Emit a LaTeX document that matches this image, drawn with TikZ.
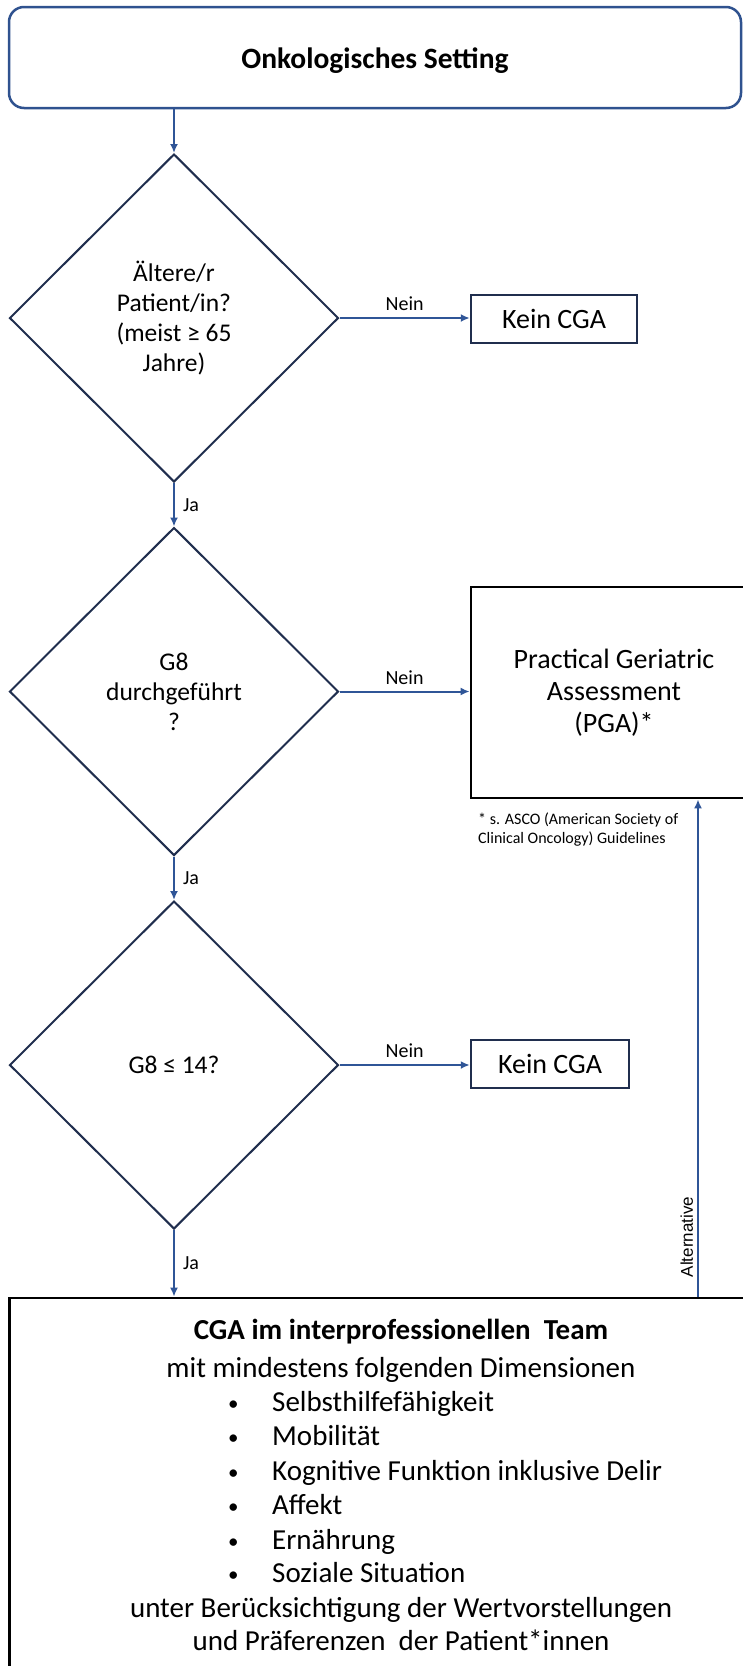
\documentclass[tikz,border=0pt]{standalone}
\usepackage{fontspec}
\setmainfont{Carlito}
\newfontfamily\altfont{Liberation Sans}
\usetikzlibrary{shapes.geometric,arrows.meta}
\definecolor{conn}{RGB}{47,85,151}
\definecolor{navy}{RGB}{32,46,78}
\definecolor{titleblue}{RGB}{47,82,143}
\newcommand{\blt}{\makebox[44pt][l]{\raisebox{1pt}{\fontsize{21}{21}\selectfont •}}}
\begin{document}
\begin{tikzpicture}[x=1pt,y=-1pt,
  arr/.style={draw=conn,line width=2pt,-{Latex[length=9pt,width=8pt]}},
  dec/.style={diamond,draw=navy,line width=2pt,minimum width=329pt,minimum height=328pt,inner sep=0pt,align=center,font=\fontsize{25.5}{30}\selectfont},
  keinbox/.style={rectangle,draw=navy,line width=2.5pt,minimum height=48pt,inner sep=0pt,font=\fontsize{28}{33}\selectfont},
  blackbox/.style={rectangle,draw=black,line width=2.8pt,inner sep=0pt,align=center},
  lbl/.style={font=\fontsize{20}{24}\selectfont,inner sep=2pt},
  bigline/.style={inner sep=0pt,text height=20pt,text depth=6pt,font=\fontsize{29}{34.5}\selectfont}
]
\useasboundingbox (0,0) rectangle (743,1666);
\clip (0,0) rectangle (743,1666);

% title
\node[rectangle,rounded corners=15pt,draw=titleblue,line width=2.5pt,minimum width=732pt,minimum height=101pt,inner sep=0pt,text height=28.5pt,text depth=6pt,font=\bfseries\fontsize{29.5}{36}\selectfont] (title) at (375,57.5) {Onkologisches Setting};

% decisions
\node[dec] (d1) at (174,318) {Ältere/r\\Patient/in?\\(meist ≥ 65\\Jahre)};
\node[dec] (d2) at (174,691.5) {G8\\durchgeführt\\?};
\node[dec] (d3) at (174,1065) {G8 ≤ 14?};

% boxes
\node[keinbox,minimum width=166pt] (k1) at (554,319) {Kein CGA};
\node[keinbox,minimum width=158pt] (k2) at (550,1064) {Kein CGA};
\node[blackbox,minimum width=286pt,minimum height=211pt,font=\fontsize{28}{32}\selectfont] (pga) at (614,692.5) {Practical Geriatric\\Assessment\\(PGA)*};
\node[anchor=north west,inner sep=0pt,align=left,font=\fontsize{16}{19}\selectfont] (foot) at (478,813) {* s. ASCO (American Society of\\Clinical Oncology) Guidelines};
\node[blackbox,minimum width=783pt,minimum height=384pt] (cga) at (401,1490) {};

% big box text
\node[bigline,font=\bfseries\fontsize{29}{34.5}\selectfont] (c0) at (401,1332) {CGA im interprofessionellen \ Team};
\node[bigline] (c1) at (401,1370) {mit mindestens folgenden Dimensionen};
\node[bigline,anchor=west] (b1) at (228,1404) {\blt Selbsthilfefähigkeit};
\node[bigline,anchor=west] (b2) at (228,1438) {\blt Mobilität};
\node[bigline,anchor=west] (b3) at (228,1473) {\blt Kognitive Funktion inklusive Delir};
\node[bigline,anchor=west] (b4) at (228,1507) {\blt Affekt};
\node[bigline,anchor=west] (b5) at (228,1542) {\blt Ernährung};
\node[bigline,anchor=west] (b6) at (228,1575) {\blt Soziale Situation};
\node[bigline] (c2) at (401,1610) {unter Berücksichtigung der Wertvorstellungen};
\node[bigline] (c3) at (401,1643) {und Präferenzen \ der Patient*innen};

% connectors
\coordinate (altx) at (698,0);
\draw[arr] (title.south -| d1.north) -- (d1.north);
\draw[arr] (d1.east) -- node[lbl,above,yshift=4pt] (n1) {Nein} (k1.west |- d1.east);
\draw[arr] (d1.south) -- node[lbl,right,xshift=6pt] (j1) {Ja} (d2.north);
\draw[arr] (d2.east) -- node[lbl,above,yshift=4pt] (n2) {Nein} (pga.west |- d2.east);
\draw[arr] (d2.south) -- node[lbl,right,xshift=6pt] (j2) {Ja} (d3.north);
\draw[arr] (d3.east) -- node[lbl,above,yshift=4pt] (n3) {Nein} (k2.west |- d3.east);
\draw[arr] (d3.south) -- node[lbl,right,xshift=6pt] (j3) {Ja} (cga.north -| d3.south);
\draw[arr] (cga.north -| altx) -- node[pos=0.12,rotate=90,anchor=south,inner sep=4pt,font=\altfont\fontsize{17}{20}\selectfont] (alt) {Alternative} (pga.south -| altx);
\end{tikzpicture}
\end{document}
